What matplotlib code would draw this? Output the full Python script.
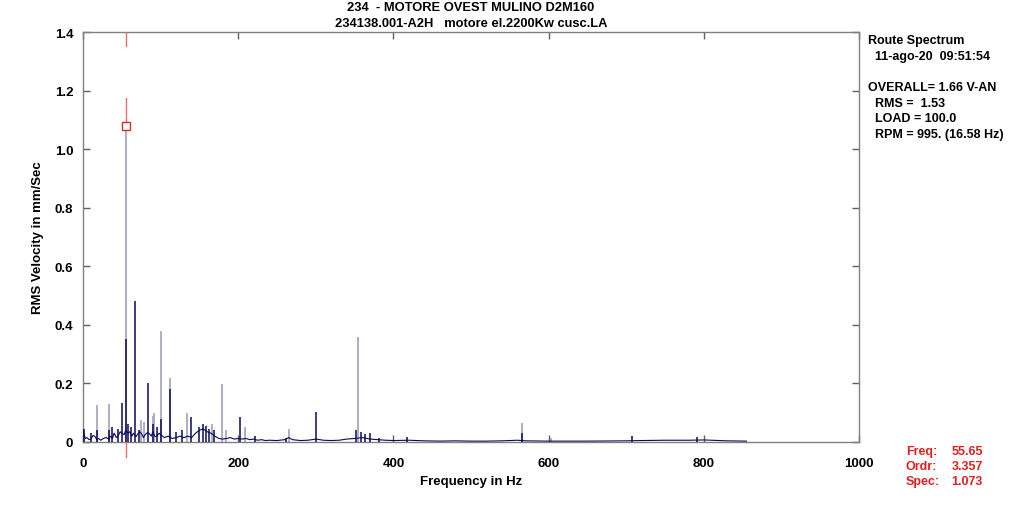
import matplotlib
matplotlib.use("Agg")
import matplotlib.pyplot as plt

plt.rcParams['font.family'] = ['Liberation Sans', 'DejaVu Sans']
plt.rcParams['font.weight'] = 'bold'

title_lines = ["234  - MOTORE OVEST MULINO D2M160", "234138.001-A2H   motore el.2200Kw cusc.LA"]

# Noise floor of the spectrum (Hz, mm/Sec)
base_freq = [0, 3, 5, 8, 10, 13, 15, 18, 20, 23, 25, 28, 30, 33, 35, 38, 40, 43, 45, 48,
             50, 53, 55, 58, 60, 63, 65, 68, 70, 73, 75, 78, 80, 83, 85, 88, 90, 93, 95, 98,
             100, 105, 110, 115, 120, 125, 130, 135, 140, 145, 150, 155, 160, 165, 170, 175,
             180, 185, 190, 195, 200, 205, 210, 215, 220, 225, 230, 235, 240, 250, 260, 265,
             270, 280, 290, 300, 310, 320, 330, 340, 350, 360, 370, 380, 390, 400, 420, 440,
             460, 480, 500, 520, 540, 560, 570, 600, 650, 700, 720, 750, 780, 800, 830, 855]
base_amp = [0.040, 0.012, 0.015, 0.008, 0.010, 0.022, 0.020, 0.008, 0.012, 0.006, 0.010, 0.014,
            0.015, 0.010, 0.020, 0.012, 0.030, 0.015, 0.020, 0.035, 0.030, 0.025, 0.040, 0.030,
            0.035, 0.020, 0.030, 0.018, 0.025, 0.035, 0.030, 0.015, 0.025, 0.032, 0.030, 0.020,
            0.035, 0.018, 0.020, 0.030, 0.025, 0.015, 0.020, 0.012, 0.015, 0.020, 0.015, 0.020,
            0.015, 0.030, 0.040, 0.045, 0.035, 0.030, 0.020, 0.012, 0.010, 0.012, 0.015, 0.010,
            0.012, 0.010, 0.012, 0.008, 0.010, 0.006, 0.008, 0.005, 0.006, 0.005, 0.008, 0.015,
            0.008, 0.005, 0.006, 0.010, 0.006, 0.005, 0.006, 0.010, 0.012, 0.015, 0.010, 0.008,
            0.006, 0.005, 0.006, 0.004, 0.003, 0.004, 0.003, 0.003, 0.004, 0.006, 0.004, 0.003,
            0.003, 0.004, 0.005, 0.006, 0.006, 0.007, 0.004, 0.003]

# Dark spectrum peaks
navy_freq = [1, 10, 17.6, 34, 37, 45, 50.8, 55.65, 58, 62, 67.1, 72, 84.3, 90, 96, 101, 112.3,
             120, 128, 139.8, 150, 155, 158, 163, 169, 201.7, 222, 262, 299.8, 351.6, 358, 363,
             370, 381, 417, 565.6, 708, 791]
navy_amp = [0.045, 0.03, 0.04, 0.04, 0.05, 0.045, 0.132, 0.351, 0.06, 0.05, 0.482, 0.04, 0.2,
            0.06, 0.05, 0.078, 0.18, 0.035, 0.04, 0.084, 0.05, 0.06, 0.055, 0.045, 0.04, 0.084,
            0.02, 0.015, 0.103, 0.041, 0.033, 0.027, 0.03, 0.012, 0.018, 0.03, 0.02, 0.016]

# Light (grey) peaks
grey_freq = [17.6, 34, 55.65, 75, 79, 90, 92, 101, 112.3, 133.8, 166, 178.5, 184, 209, 266,
             354.4, 565.6, 602.6]
grey_amp = [0.126, 0.13, 1.08, 0.076, 0.067, 0.09, 0.1, 0.38, 0.22, 0.1, 0.06, 0.198, 0.04,
            0.05, 0.043, 0.36, 0.065, 0.012]

cursor_freq = 55.65
cursor_spec = 1.078

info_lines = ["Route Spectrum", "  11-ago-20  09:51:54", "", "OVERALL= 1.66 V-AN",
              "  RMS =  1.53", "  LOAD = 100.0", "  RPM = 995. (16.58 Hz)"]
cursor_labels = ["Freq:", "Ordr:", "Spec:"]
cursor_values = ["55.65", "3.357", "1.073"]

fig = plt.figure(figsize=(10.24, 5.10), dpi=100)
ax = fig.add_axes([83 / 1024, 67 / 510, 776 / 1024, 410 / 510])

navy = '#0a0a5a'
grey = '#a8a8c0'

ax.vlines(grey_freq, 0, grey_amp, color=grey, lw=1.3, zorder=2)
ax.plot(base_freq, base_amp, color=navy, lw=0.8, zorder=3)
ax.vlines(navy_freq, 0, navy_amp, color=navy, lw=1.1, zorder=3)

# cursor
red = '#e07070'
ax.plot([cursor_freq, cursor_freq], [1.4, 1.352], color=red, lw=1, zorder=4)
ax.plot([cursor_freq, cursor_freq], [1.175, cursor_spec], color=red, lw=1, zorder=4)
ax.plot([cursor_freq, cursor_freq], [0, -0.05], color=red, lw=1, zorder=4, clip_on=False)
ax.plot([cursor_freq], [cursor_spec], marker='s', ms=6, mfc='white', mec='#d03030', mew=1, zorder=5)

ax.set_xlim(0, 1000)
ax.set_ylim(0, 1.4)
ax.set_xticks([0, 200, 400, 600, 800, 1000])
ax.set_xticklabels(['0', '200', '400', '600', '800', '1000'])
ax.set_yticks([0, 0.2, 0.4, 0.6, 0.8, 1.0, 1.2, 1.4])
ax.set_yticklabels(['0', '0.2', '0.4', '0.6', '0.8', '1.0', '1.2', '1.4'])
for s in ax.spines.values():
    s.set_color('#808080')
    s.set_linewidth(1)
ax.tick_params(axis='both', direction='in', length=5, color='#606060', labelsize=9.5,
               top=True, right=True, width=1)
ax.tick_params(axis='x', pad=11)
ax.tick_params(axis='y', pad=7)
for lab in ax.get_xticklabels() + ax.get_yticklabels():
    lab.set_fontweight('bold')

ax.set_xlabel("Frequency in Hz", fontsize=9.5, fontweight='bold', labelpad=4)
ax.set_ylabel("RMS Velocity in mm/Sec", fontsize=9.5, fontweight='bold', labelpad=8)

fig.text(471 / 1024, 1 - 8 / 510, title_lines[0], ha='center', va='center', fontsize=9.3, fontweight='bold')
fig.text(471 / 1024, 1 - 24 / 510, title_lines[1], ha='center', va='center', fontsize=9.3, fontweight='bold')

y0 = 41
for i, line in enumerate(info_lines):
    fig.text(868 / 1024, 1 - (y0 + i * 15.7) / 510, line, ha='left', va='center',
             fontsize=9, fontweight='bold')

for i, (l, v) in enumerate(zip(cursor_labels, cursor_values)):
    yy = 1 - (452 + i * 15) / 510
    fig.text(906 / 1024, yy, l, ha='left', va='center', fontsize=9, fontweight='bold', color='#e02020')
    fig.text(983 / 1024, yy, v, ha='right', va='center', fontsize=9, fontweight='bold', color='#e02020')

fig.savefig("out.png", dpi=100)
